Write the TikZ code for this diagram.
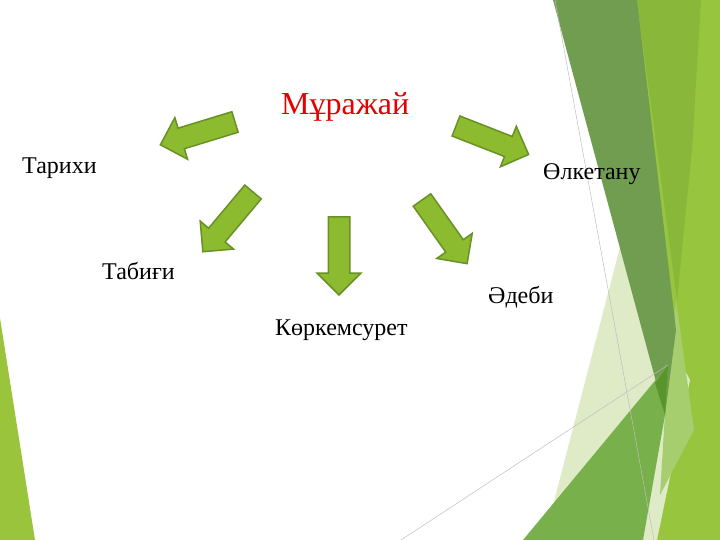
\documentclass[tikz,border=0pt]{standalone}
\usepackage{fontspec}
\setmainfont{Liberation Serif}
\usetikzlibrary{shapes.arrows}
\definecolor{darkband}{RGB}{112,157,80}
\definecolor{olivetop}{RGB}{137,183,58}
\definecolor{brightgr}{RGB}{152,197,62}
\definecolor{palegr}{RGB}{222,235,198}
\definecolor{medgr}{RGB}{120,176,75}
\definecolor{overlapgr}{RGB}{88,150,45}
\definecolor{lightstrip}{RGB}{167,206,110}
\definecolor{lefttri}{RGB}{155,196,61}
\definecolor{arrowfill}{RGB}{141,187,48}
\definecolor{arrowline}{RGB}{104,145,37}
\definecolor{thinline}{RGB}{190,190,190}
\definecolor{titlered}{RGB}{228,0,0}
\begin{document}
\begin{tikzpicture}[x=1pt,y=-1pt,
  grarrow/.style={single arrow, draw=arrowline, fill=arrowfill, line width=1.5pt,
    minimum height=78pt, inner xsep=0pt, inner ysep=10pt,
    single arrow head extend=11pt, outer sep=0pt, anchor=tail},
  lbl/.style={anchor=base west, inner sep=0pt, font=\fontsize{24}{28}\selectfont}]
\useasboundingbox (0,0) rectangle (720,540);
% background decoration
\fill[lefttri] (0,318) -- (35,540) -- (0,540) -- cycle;
\fill[brightgr] (637,0) -- (720,0) -- (720,540) -- (638,540) -- cycle;
\fill[olivetop] (637,0) -- (701,0) -- (692,150) -- (677,300) -- cycle;
\fill[palegr] (620,247) -- (690,380) -- (657,540) -- (544,540) -- cycle;
\fill[lightstrip] (676,300) -- (694,430) -- (660,495) -- (665,413) -- cycle;
\fill[darkband] (553,0) -- (637,0) -- (676,330) -- (665,415) -- cycle;
\fill[medgr] (523,540) -- (668,365) -- (665,415) -- (643,540) -- cycle;
\fill[overlapgr] (655,383) -- (668,365) -- (665,415) -- cycle;
\draw[thinline, line width=0.5pt] (555,0) -- (654,540);
\draw[thinline, line width=0.5pt] (401,540) -- (668,365);
% arrows
\node[grarrow, rotate=197] (a1) at (235,122) {};
\node[grarrow, rotate=230] (a2) at (253,192) {};
\node[grarrow, rotate=270] (a3) at (339,217) {};
\node[grarrow, rotate=-54.7] (a4) at (422,200) {};
\node[grarrow, rotate=-21.4] (a5) at (456,126) {};
% labels
\node[anchor=base west, inner sep=0pt, text=titlered, font=\fontsize{32}{38}\selectfont] (title) at (281,115) {Мұражай};
\node[lbl] (tarihi) at (22,174) {Тарихи};
\node[lbl] (tabigi) at (102,279) {Табиғи};
\node[lbl] (korkem) at (275,335) {Көркемсурет};
\node[lbl] (adebi) at (488,303) {Әдеби};
\node[lbl] (olke) at (543,180) {Өлкетану};
\end{tikzpicture}
\end{document}
